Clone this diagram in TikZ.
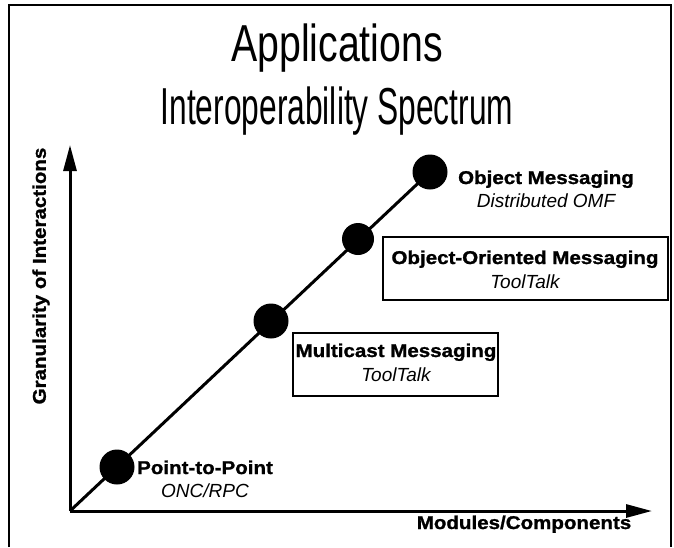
\documentclass[tikz,border=0pt]{standalone}
\usepackage{fontspec}
\setmainfont{Liberation Sans}
\newfontfamily\titleA[FakeStretch=0.755]{Liberation Sans}
\newfontfamily\titleB[FakeStretch=0.61]{Liberation Sans}
\newfontfamily\lblfont[FakeStretch=1.11,BoldFeatures={FakeBold=1.2}]{Liberation Sans}
\usetikzlibrary{arrows.meta}
\begin{document}
\begin{tikzpicture}[x=1pt,y=-1pt,
  axis/.style={line width=3pt,-{Triangle[length=26pt,width=13pt]}},
  dot/.style={circle,fill=black,inner sep=0pt,minimum size=35pt},
  bl/.style={font=\lblfont\fontsize{18.5}{20}\selectfont\bfseries,inner sep=0pt,anchor=base},
  it/.style={font=\fontsize{19}{21}\selectfont\itshape,inner sep=0pt,anchor=base},
  lblbox/.style={draw,line width=2.5pt,inner sep=0pt}]
\useasboundingbox (0,0) rectangle (674,547);
% frame
\draw[line width=2pt] (9,547) -- (9,5) -- (671,5) -- (671,547);
% title
\node[anchor=base,inner sep=0pt,font=\titleA\fontsize{52}{54}\selectfont] (t1) at (337,61) {Applications};
\node[anchor=base,inner sep=0pt,font=\titleB\fontsize{52}{54}\selectfont] (t2) at (337,124) {Interoperability Spectrum};
% axes
\coordinate (o) at (70,511);
\coordinate (ytip) at (70,145);
\coordinate (xtip) at (652,511);
\draw[axis] (o) -- (ytip);
\draw[axis] (o) -- (xtip);
% diagonal and dots
\coordinate (c4) at (430,172);
\draw[line width=3pt] (o) -- (c4);
\node[dot] (d1) at (117,467) {};
\node[dot] (d2) at (271,321) {};
\node[dot,minimum size=32pt] (d3) at (358,239) {};
\node[dot] (d4) at (c4) {};
% boxes
\draw[lblbox] (383,237) rectangle (668,300);
\draw[lblbox] (293,333) rectangle (498,396);
% labels
\node[bl] (om) at (546,184) {Object Messaging};
\node[it] (omf) at (546,207) {Distributed OMF};
\node[bl] (oom) at (525,264) {Object-Oriented Messaging};
\node[it] (tt1) at (525,288) {ToolTalk};
\node[bl] (mm) at (396,357) {Multicast Messaging};
\node[it] (tt2) at (396,381) {ToolTalk};
\node[bl] (pp) at (205,474) {Point-to-Point};
\node[it] (onc) at (205,497) {ONC/RPC};
\node[bl] (mc) at (524,529) {Modules/Components};
\node[bl,anchor=center,rotate=90] (gi) at (41,276) {Granularity of Interactions};
\end{tikzpicture}
\end{document}
